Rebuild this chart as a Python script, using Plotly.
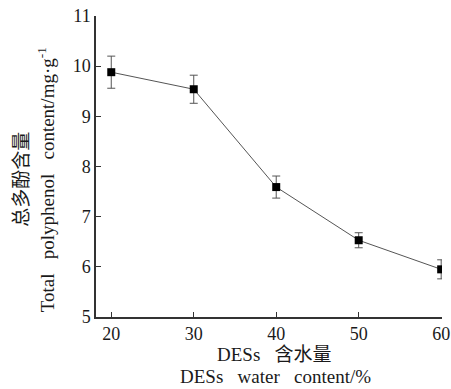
import plotly.graph_objects as go

water = [20, 30, 40, 50, 60]
polyphenol = [9.88, 9.54, 7.59, 6.53, 5.95]
err = [0.32, 0.28, 0.22, 0.15, 0.19]
x_ticks = [20, 30, 40, 50, 60]
y_ticks = [5, 6, 7, 8, 9, 10, 11]

font_fam = "'Liberation Serif', 'Noto Sans CJK SC', serif"
sp = "&nbsp;&nbsp;&nbsp;"

fig = go.Figure()
fig.add_trace(go.Scatter(
    x=water, y=polyphenol, mode="lines+markers",
    line=dict(color="#555555", width=1),
    marker=dict(symbol="square", size=8, color="black"),
    error_y=dict(type="data", array=err, visible=True, color="#555555", thickness=1, width=4),
    showlegend=False,
))

fig.update_layout(
    width=451, height=389,
    margin=dict(l=96, r=9, t=16, b=72, autoexpand=False),
    paper_bgcolor="white", plot_bgcolor="white",
    font=dict(family=font_fam, size=19, color="#1a1a1a"),
    xaxis=dict(range=[18.15, 60.1], tickvals=x_ticks, ticks="inside", ticklen=5,
               tickcolor="#333333", showline=True, linecolor="#333333", linewidth=1.5,
               showgrid=False, zeroline=False, tickfont=dict(size=18), automargin=False),
    yaxis=dict(range=[5, 11], tickvals=y_ticks, ticks="inside", ticklen=5,
               tickcolor="#333333", showline=True, linecolor="#333333", linewidth=1.5,
               showgrid=False, zeroline=False, tickfont=dict(size=18), automargin=False,
               ticklabelstandoff=0),
    annotations=[
        dict(text="DESs" + sp + "含水量", xref="paper", yref="paper",
             x=0.515, y=-0.125, xanchor="center", yanchor="middle", showarrow=False,
             font=dict(size=19)),
        dict(text="DESs" + sp + "water" + sp + "content/%", xref="paper", yref="paper",
             x=0.518, y=-0.197, xanchor="center", yanchor="middle", showarrow=False,
             font=dict(size=19)),
        dict(text="总多酚含量", xref="paper", yref="paper",
             x=-0.215, y=0.458, xanchor="center", yanchor="middle", showarrow=False,
             textangle=-90, font=dict(size=19)),
        dict(text="Total" + sp + "polyphenol" + sp + "content/mg·g<sup>-1</sup>",
             xref="paper", yref="paper",
             x=-0.142, y=0.457, xanchor="center", yanchor="middle", showarrow=False,
             textangle=-90, font=dict(size=19)),
    ],
)

fig.write_html("out.html", config={"displayModeBar": False},
               post_script="document.body.style.margin='0';document.body.style.overflow='hidden';")
